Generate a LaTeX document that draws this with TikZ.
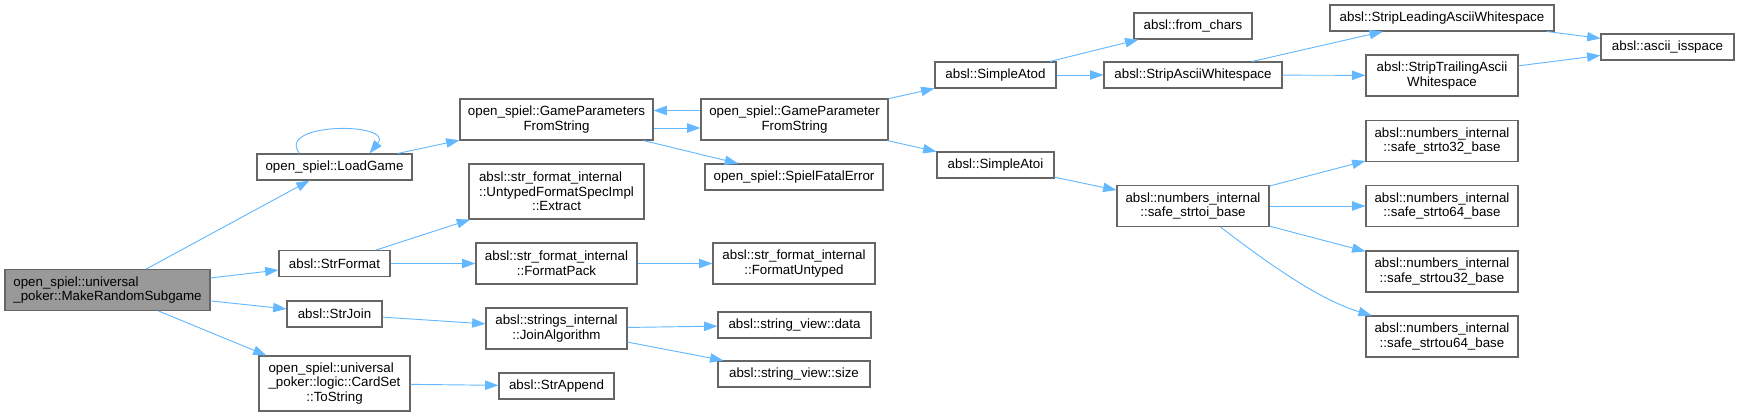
\documentclass[tikz,border=0pt]{standalone}
\usepackage{fontspec}
\setmainfont{Liberation Sans}
\usetikzlibrary{arrows.meta,calc}
\definecolor{DoxEdge}{HTML}{63B8FF}
\definecolor{DoxFrame}{HTML}{666666}
\definecolor{DoxRoot}{HTML}{999999}

\begin{document}
\begin{tikzpicture}[x=0.75pt,y=-0.75pt,>={Triangle[length=10pt,width=7pt]},
  font=\fontsize{10}{11}\selectfont,
  fn/.style={draw=DoxFrame,fill=white,line width=0.8pt,inner sep=0pt,align=left},
  oneline/.style={fn,minimum height=19.5pt},
  twoline/.style={fn,minimum height=30.75pt},
  threeline/.style={fn,minimum height=41.25pt},
  call/.style={->,color=DoxEdge,line width=0.7pt}]
  \useasboundingbox (0,0) rectangle (1739,417);

  % caller and first level
  \node[twoline,minimum width=153.75pt,fill=DoxRoot] (mrs) at (107.5,290)
    {open\_spiel::universal\\\hfil\_poker::MakeRandomSubgame};
  \node[oneline,minimum width=116.25pt] (loadgame) at (334.5,167) {open\_spiel::LoadGame};
  \node[oneline,minimum width=83.25pt] (strformat) at (334.5,263.5) {absl::StrFormat};
  \node[oneline,minimum width=71.25pt] (strjoin) at (334.5,314) {absl::StrJoin};
  \node[threeline,minimum width=113.25pt] (tostring) at (334.5,383.5)
    {open\_spiel::universal\\\_poker::logic::CardSet\\\hfil::ToString};

  % second level
  \node[twoline,minimum width=144.75pt] (gpfs) at (556.5,119.5)
    {open\_spiel::GameParameters\\\hfil FromString};
  \node[threeline,minimum width=131.25pt] (extract) at (556.5,191.5)
    {absl::str\_format\_internal\\::UntypedFormatSpecImpl\\\hfil::Extract};
  \node[twoline,minimum width=120.75pt] (formatpack) at (556.5,263.5)
    {absl::str\_format\_internal\\\hfil::FormatPack};
  \node[twoline,minimum width=105.75pt] (joinalgo) at (556.5,328.5)
    {absl::strings\_internal\\\hfil::JoinAlgorithm};
  \node[oneline,minimum width=86.25pt] (strappend) at (556.5,386) {absl::StrAppend};

  % third level
  \node[twoline,minimum width=140.25pt] (gparfs) at (794.5,119.5)
    {open\_spiel::GameParameter\\\hfil FromString};
  \node[oneline,minimum width=133.5pt] (fatal) at (794,177) {open\_spiel::SpielFatalError};
  \node[twoline,minimum width=121.5pt] (untyped) at (794,263.5)
    {absl::str\_format\_internal\\\hfil::FormatUntyped};
  \node[oneline,minimum width=114.75pt] (svdata) at (794.5,325) {absl::string\_view::data};
  \node[oneline,minimum width=114pt] (svsize) at (794,374) {absl::string\_view::size};

  % parsing helpers
  \node[oneline,minimum width=90.75pt] (atod) at (995.5,75) {absl::SimpleAtod};
  \node[oneline,minimum width=87.75pt] (atoi) at (995.5,165) {absl::SimpleAtoi};
  \node[oneline,minimum width=88.5pt] (fromchars) at (1193,26) {absl::from\_chars};
  \node[oneline,minimum width=133.5pt] (stripws) at (1193,75) {absl::StripAsciiWhitespace};
  \node[twoline,minimum width=114pt] (strtoi) at (1193,206)
    {absl::numbers\_internal\\\hfil::safe\_strtoi\_base};
  \node[oneline,minimum width=168pt] (stripleading) at (1442,18)
    {absl::StripLeadingAsciiWhitespace};
  \node[twoline,minimum width=114pt] (striptrailing) at (1442,75.5)
    {absl::StripTrailingAscii\\\hfil Whitespace};
  \node[twoline,minimum width=114pt] (strto32) at (1442,141)
    {absl::numbers\_internal\\\hfil::safe\_strto32\_base};
  \node[twoline,minimum width=114pt] (strto64) at (1442,206)
    {absl::numbers\_internal\\\hfil::safe\_strto64\_base};
  \node[twoline,minimum width=114pt] (strtou32) at (1442,271.5)
    {absl::numbers\_internal\\\hfil::safe\_strtou32\_base};
  \node[twoline,minimum width=114pt] (strtou64) at (1442,336.5)
    {absl::numbers\_internal\\\hfil::safe\_strtou64\_base};
  \node[oneline,minimum width=99.75pt] (isspace) at (1667.5,47) {absl::ascii\_isspace};

  % calls
  \foreach \src/\dst in {mrs/loadgame, mrs/strformat, mrs/strjoin, mrs/tostring,
      loadgame/gpfs, strformat/extract, strformat/formatpack, strjoin/joinalgo,
      tostring/strappend, gpfs/fatal, formatpack/untyped, joinalgo/svdata,
      joinalgo/svsize, gparfs/atod, gparfs/atoi, atod/fromchars, atod/stripws,
      atoi/strtoi, stripws/stripleading, stripws/striptrailing,
      stripleading/isspace, striptrailing/isspace, strtoi/strto32,
      strtoi/strto64, strtoi/strtou32}
    \draw[call] (\src) -- (\dst);
  \draw[call] ($(gpfs.east)+(0,8.5)$) -- ($(gparfs.west)+(0,8.5)$);
  \draw[call] ($(gparfs.west)+(0,-9)$) -- ($(gpfs.east)+(0,-9)$);
  \draw[call] ($(loadgame.north)+(-35,0)$) .. controls (275,122) and (395,122)
    .. ($(loadgame.north)+(35,0)$);
  \draw[call] (strtoi) .. controls (1270,265) and (1320,300) .. (strtou64);
\end{tikzpicture}
\end{document}
